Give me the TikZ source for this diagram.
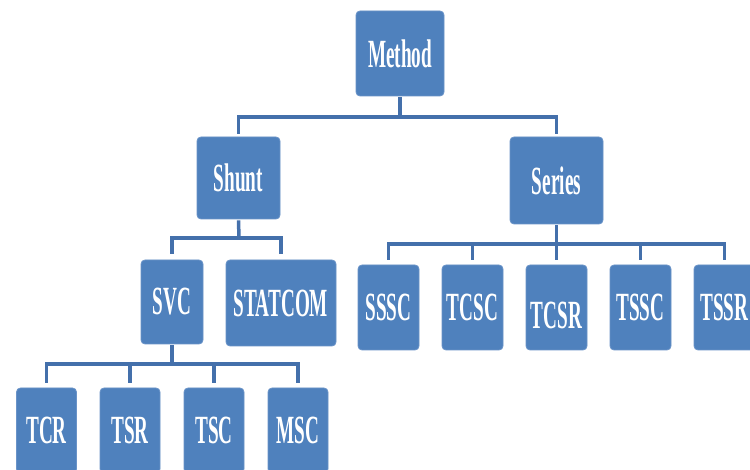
\documentclass[tikz,border=0pt]{standalone}
\usepackage{fontspec}
\setmainfont{Liberation Serif}
\definecolor{boxblue}{HTML}{4F81BD}
\definecolor{boxedge}{HTML}{6A93C8}
\definecolor{linkblue}{HTML}{4470AB}
\newcommand{\lbl}[1]{\scalebox{0.48}[1]{#1}}
\begin{document}
\begin{tikzpicture}[x=1pt,y=-1pt,
  box/.style={draw=boxedge,line width=0.8pt,fill=boxblue,rounded corners=4pt,
    inner sep=0pt,text=white,font=\fontsize{40}{40}\selectfont\bfseries,anchor=center},
  link/.style={draw=linkblue,line width=3.5pt,line cap=butt}]
\useasboundingbox (0,0) rectangle (750,470);
\clip (0,0) rectangle (750,470);
\fill[white] (0,0) rectangle (750,470);
% nodes
\node[box,minimum width=88pt,minimum height=85pt] (method) at (400,53.5) {\lbl{Method}};
\node[box,minimum width=83pt,minimum height=82pt] (shunt) at (238.5,178) {\lbl{Shunt}};
\node[box,minimum width=93pt,minimum height=87pt] (series) at (556.5,180.5) {\lbl{Series}};
\node[box,minimum width=62pt,minimum height=84pt] (svc) at (172,302) {\lbl{SVC}};
\node[box,minimum width=110pt,minimum height=86pt] (statcom) at (281,303) {\lbl{STATCOM}};
\node[box,minimum width=61pt,minimum height=85pt] (sssc) at (388.5,307.5) {\lbl{SSSC}};
\node[box,minimum width=61pt,minimum height=85pt] (tcsc) at (472.5,307.5) {\lbl{TCSC}};
\node[box,minimum width=61pt,minimum height=85pt] (tcsr) at (556.5,307.5) {\raisebox{-8pt}[\height][\depth]{\lbl{TCSR}}};
\node[box,minimum width=61pt,minimum height=85pt] (tssc) at (640.5,307.5) {\lbl{TSSC}};
\node[box,minimum width=61pt,minimum height=85pt] (tssr) at (724.5,307.5) {\lbl{TSSR}};
\node[box,minimum width=60pt,minimum height=85pt] (tcr) at (46.5,430.5) {\lbl{TCR}};
\node[box,minimum width=60pt,minimum height=85pt] (tsr) at (130,430.5) {\lbl{TSR}};
\node[box,minimum width=60pt,minimum height=85pt] (tsc) at (214,430.5) {\lbl{TSC}};
\node[box,minimum width=60pt,minimum height=85pt] (msc) at (298,430.5) {\lbl{MSC}};
% bars
\coordinate (b1) at (400,117);
\coordinate (b2) at (239,238);
\coordinate (b3) at (556.5,244);
\coordinate (b4) at (172,364);
% connectors
\draw[link] ([yshift=-1pt]method.south) -- (b1);
\draw[link] ([yshift=3pt]shunt.north) |- (b1) -| ([yshift=3pt]series.north);
\draw[link] ([yshift=-1pt]shunt.south) -- (b2);
\draw[link] ([yshift=6pt]svc.north) |- (b2) -| ([yshift=6pt]statcom.north);
\draw[link] ([yshift=-1pt]series.south) -- (b3);
\draw[link] ([yshift=5pt]sssc.north) |- (b3) -| ([yshift=5pt]tssr.north);
\draw[link] ([yshift=5pt]tcsc.north) -- (tcsc.north |- b3);
\draw[link] ([yshift=5pt]tcsr.north) -- (tcsr.north |- b3);
\draw[link] ([yshift=5pt]tssc.north) -- (tssc.north |- b3);
\draw[link] ([yshift=-1pt]svc.south) -- (b4);
\draw[link] ([yshift=5pt]tcr.north) |- (b4) -| ([yshift=5pt]msc.north);
\draw[link] ([yshift=5pt]tsr.north) -- (tsr.north |- b4);
\draw[link] ([yshift=5pt]tsc.north) -- (tsc.north |- b4);
\end{tikzpicture}
\end{document}
